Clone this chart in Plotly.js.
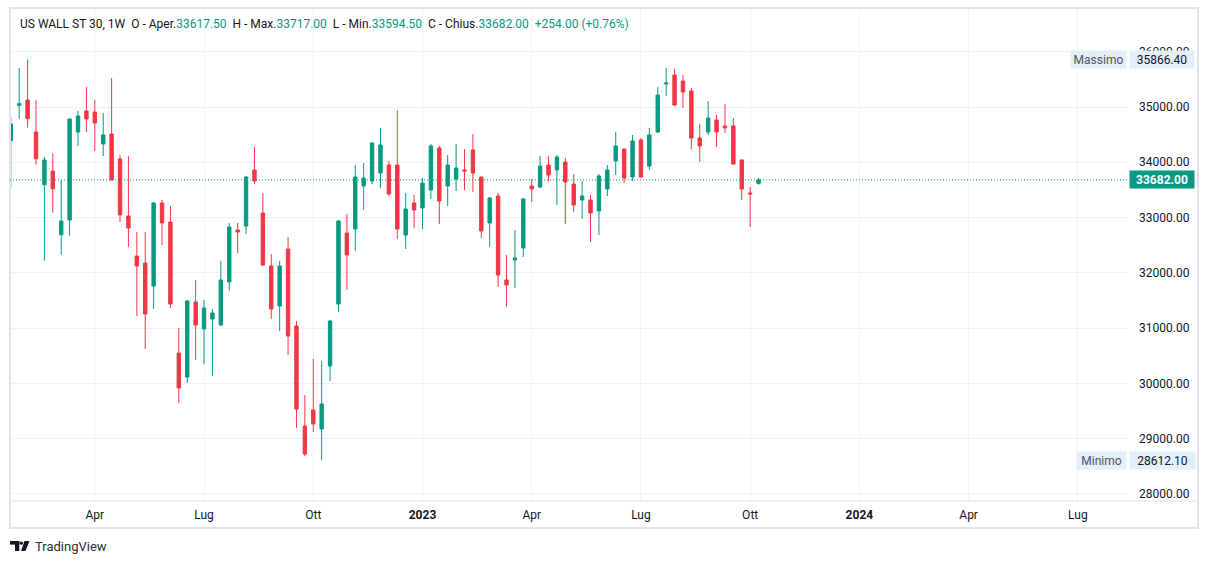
<!DOCTYPE html>
<html>
<head>
<meta charset="utf-8">
<script src="https://cdn.plot.ly/plotly-3.0.1.min.js"></script>
<style>
  html, body { margin: 0; padding: 0; background: #ffffff; }
  #chart { width: 1209px; height: 564px; }
</style>
</head>
<body>
<div id="chart"></div>
<script>
// weekly bars, US WALL ST 30 (CFD), 1W
const weeks = [
  '2022-01-24','2022-01-31','2022-02-07','2022-02-14','2022-02-21','2022-02-28','2022-03-07','2022-03-14','2022-03-21','2022-03-28',
  '2022-04-04','2022-04-11','2022-04-18','2022-04-25','2022-05-02','2022-05-09','2022-05-16','2022-05-23','2022-05-30','2022-06-06',
  '2022-06-13','2022-06-20','2022-06-27','2022-07-04','2022-07-11','2022-07-18','2022-07-25','2022-08-01','2022-08-08','2022-08-15',
  '2022-08-22','2022-08-29','2022-09-05','2022-09-12','2022-09-19','2022-09-26','2022-10-03','2022-10-10','2022-10-17','2022-10-24',
  '2022-10-31','2022-11-07','2022-11-14','2022-11-21','2022-11-28','2022-12-05','2022-12-12','2022-12-19','2022-12-26','2023-01-02',
  '2023-01-09','2023-01-16','2023-01-23','2023-01-30','2023-02-06','2023-02-13','2023-02-20','2023-02-27','2023-03-06','2023-03-13',
  '2023-03-20','2023-03-27','2023-04-03','2023-04-10','2023-04-17','2023-04-24','2023-05-01','2023-05-08','2023-05-15','2023-05-22',
  '2023-05-29','2023-06-05','2023-06-12','2023-06-19','2023-06-26','2023-07-03','2023-07-10','2023-07-17','2023-07-24','2023-07-31',
  '2023-08-07','2023-08-14','2023-08-21','2023-08-28','2023-09-04','2023-09-11','2023-09-18','2023-09-25','2023-10-02','2023-10-09'
];
const opens = [
  34391, 35030, 35127, 34548, 33595, 33843, 32690, 32956, 34548, 34928,
  34910, 34331, 34512, 34060, 33029, 32305, 32178, 31762, 33264, 32920,
  30550, 30116, 31473, 30985, 31165, 31057, 31835, 32775, 32848, 33861,
  33083, 32124, 31401, 32432, 31039, 29229, 29519, 29175, 30315, 31437,
  32721, 32793, 33571, 33662, 33806, 33951, 33951, 32685, 33264, 33173,
  33499, 34259, 33571, 33698, 33861, 34223, 33734, 32902, 33390, 31871,
  32233, 32450, 33571, 33553, 33951, 33861, 34005, 33607, 33318, 33318,
  33119, 33517, 34024, 34241, 33734, 34403, 33933, 34548, 35416, 35580,
  35471, 35290, 34440, 34548, 34765, 34657, 34657, 34042, 33445, 33617.5
];
const highs = [
  34819, 35706, 35866.4, 35127, 34096, 34168, 33674, 34790, 34928, 35362,
  35127, 34892, 35525, 34132, 34114, 32739, 32739, 33282, 33318, 33209,
  31003, 31509, 31871, 31509, 31346, 32215, 32902, 32902, 33752, 34277,
  33445, 32341, 32215, 32649, 31129, 29790, 30442, 30406, 31147, 32956,
  33065, 33951, 33987, 34360, 34620, 34024, 34946, 33445, 33409, 33716,
  34331, 34295, 34132, 34331, 34241, 34512, 33740, 33372, 33445, 32323,
  32775, 33354, 33698, 34114, 34114, 34132, 34078, 33788, 33662, 33409,
  33788, 33951, 34548, 34250, 34494, 34440, 34620, 35362, 35706, 35688,
  35580, 35344, 34693, 35109, 34856, 35054, 34801, 34050, 33553, 33717
];
const lows = [
  33540, 34783, 34626, 33957, 32220, 33088, 32328, 32672, 34295, 34548,
  34204, 34114, 33670, 32920, 32468, 31220, 30623, 31346, 32504, 31364,
  29646, 30007, 30424, 30352, 30134, 31039, 31672, 32359, 32703, 33607,
  32130, 31165, 30949, 30514, 29193, 28687, 29121, 28612.1, 30044, 31292,
  31690, 32395, 33137, 33607, 33535, 33390, 32613, 32432, 32811, 32793,
  33336, 32884, 33209, 33481, 33499, 33463, 32631, 32468, 31744, 31383,
  31726, 32287, 33282, 33535, 33662, 33227, 32884, 33101, 32974, 32558,
  32685, 33390, 33770, 33625, 33662, 33716, 33861, 34530, 35199, 35018,
  34982, 34241, 34005, 34494, 34277, 34530, 33951, 33318, 32830, 33594.5
];
const closes = [
  34693, 35060, 34789, 34065, 34042, 33522, 32938, 34783, 34838, 34783,
  34711, 34494, 33680, 33047, 32811, 32124, 31256, 33264, 32902, 31437,
  29917, 31491, 31057, 31365, 31274, 31871, 32830, 32739, 33734, 33662,
  32142, 31346, 32124, 30858, 29537, 28723, 29266, 29627, 31129, 32938,
  32323, 33734, 33716, 34349, 34313, 33427, 32793, 33155, 33137, 33625,
  34295, 33300, 33951, 33897, 33843, 33806, 32757, 33354, 31961, 31780,
  32269, 33336, 33517, 33933, 33770, 34096, 33644, 33228, 33390, 33083,
  33752, 33861, 34295, 33716, 34385, 33734, 34494, 35217, 35434, 35036,
  35271, 34440, 34295, 34801, 34548, 34620, 33969, 33517, 33428, 33682
];

const priceTicks = [28000, 29000, 30000, 31000, 32000, 33000, 34000, 35000, 36000];
const timeTickDates = ['2022-04-04','2022-07-04','2022-10-03','2023-01-02','2023-04-03','2023-07-03','2023-10-02','2024-01-01','2024-04-01','2024-07-01'];
const timeTickText = ['Apr','Lug','Ott','<b>2023</b>','Apr','Lug','Ott','<b>2024</b>','Apr','Lug'];

// ---------- geometry helpers (pixel -> paper) ----------
const M = { l: 10, r: 81, t: 9, b: 63 };
const W = 1209 - M.l - M.r, H = 564 - M.t - M.b;
function px(x) { return (x - M.l) / W; }
function py(y) { return (564 - M.b - y) / H; }

const GREEN = '#089981', RED = '#F23645', TXT = '#131722', GRID = '#f0f2f6', FRAME = '#e0e3eb';
const FONT = 'Roboto, "Open Sans", sans-serif';
const nb = '\u00a0';

function f2(v) { return v.toFixed(2); }

let n = closes.length;
let lastO = opens[n-1], lastH = highs[n-1], lastL = lows[n-1], lastC = closes[n-1];
let chg = lastC - closes[n-2];
let chgPct = chg / closes[n-2] * 100;
let hiMax = Math.max(...highs), loMin = Math.min(...lows);

function g(s) { return `<span style="color:${GREEN}">${s}</span>`; }
let header = `US WALL ST 30, 1W${nb}${nb}O - Aper.${g(f2(lastO))}${nb}${nb}H - Max.${g(f2(lastH))}${nb}${nb}L - Min.${g(f2(lastL))}${nb}${nb}C - Chius.${g(f2(lastC))}${nb}${nb}${g((chg >= 0 ? '+' : '') + f2(chg) + ' (' + (chg >= 0 ? '+' : '') + chgPct.toFixed(2) + '%)')}`;

let traceCandle = {
  type: 'candlestick', x: weeks, open: opens, high: highs, low: lows, close: closes,
  increasing: { line: { color: GREEN, width: 1 }, fillcolor: GREEN },
  decreasing: { line: { color: RED, width: 1 }, fillcolor: RED },
  whiskerwidth: 0, hoverinfo: 'skip', showlegend: false
};

let tagBg = '#e3effd';
let annotations = [
  { xref: 'paper', yref: 'paper', x: px(18), y: py(24), xanchor: 'left', yanchor: 'middle',
    text: header, showarrow: false, font: { family: FONT, size: 12, color: TXT } },
  // last price tag
  { xref: 'paper', yref: 'y', x: px(1129), y: lastC, xanchor: 'left', yanchor: 'middle',
    text: f2(lastC), showarrow: false, bgcolor: GREEN, width: 64, height: 17, borderpad: 0,
    font: { family: FONT, size: 12, color: '#ffffff', weight: 'bold' } },
  // high / low tags
  { xref: 'paper', yref: 'y', x: px(1127), y: hiMax, xanchor: 'right', yanchor: 'middle',
    text: 'Massimo', showarrow: false, bgcolor: tagBg, width: 55, height: 17, borderpad: 0,
    font: { family: FONT, size: 12, color: '#50535e' } },
  { xref: 'paper', yref: 'y', x: px(1129), y: hiMax, xanchor: 'left', yanchor: 'middle',
    text: f2(hiMax), showarrow: false, bgcolor: tagBg, width: 64, height: 17, borderpad: 0,
    font: { family: FONT, size: 12, color: TXT } },
  { xref: 'paper', yref: 'y', x: px(1127), y: loMin, xanchor: 'right', yanchor: 'middle',
    text: 'Minimo', showarrow: false, bgcolor: tagBg, width: 49, height: 17, borderpad: 0,
    font: { family: FONT, size: 12, color: '#50535e' } },
  { xref: 'paper', yref: 'y', x: px(1129), y: loMin, xanchor: 'left', yanchor: 'middle',
    text: f2(loMin), showarrow: false, bgcolor: tagBg, width: 65, height: 17, borderpad: 0,
    font: { family: FONT, size: 12, color: TXT } },
  // branding
  { xref: 'paper', yref: 'paper', x: px(33), y: py(546), xanchor: 'left', yanchor: 'middle',
    text: 'TradingView', showarrow: false, font: { family: FONT, size: 13, color: '#2a2e39' } }
];

let shapes = [
  // widget frame
  { type: 'rect', xref: 'paper', yref: 'paper', x0: px(10), x1: px(1198), y0: py(528), y1: py(8),
    line: { color: FRAME, width: 2 }, fillcolor: 'rgba(0,0,0,0)' },
  // time scale separator
  { type: 'line', xref: 'paper', yref: 'paper', x0: px(10), x1: px(1198), y0: py(501), y1: py(501),
    line: { color: FRAME, width: 1 } },
  // last price line
  { type: 'line', xref: 'paper', yref: 'y', x0: 0, x1: 1, y0: lastC, y1: lastC,
    line: { color: GREEN, width: 1, dash: '1px,2px' } },
  // logo
  { type: 'rect', xref: 'paper', yref: 'paper', x0: px(10), x1: px(19.3), y0: py(544.6), y1: py(541),
    fillcolor: TXT, line: { width: 0 } },
  { type: 'rect', xref: 'paper', yref: 'paper', x0: px(15), x1: px(19.3), y0: py(551), y1: py(541),
    fillcolor: TXT, line: { width: 0 } },
  { type: 'circle', xref: 'paper', yref: 'paper', x0: px(19.8), x1: px(23), y0: py(544.8), y1: py(541.6),
    fillcolor: TXT, line: { width: 0 } },
  { type: 'path', xref: 'paper', yref: 'paper',
    path: `M ${px(24.5)} ${py(541)} L ${px(29.5)} ${py(541)} L ${px(25.5)} ${py(551)} L ${px(21)} ${py(551)} Z`,
    fillcolor: TXT, line: { width: 0 } }
];

let layout = {
  width: 1209, height: 564,
  margin: M,
  paper_bgcolor: '#ffffff', plot_bgcolor: '#ffffff',
  showlegend: false, boxgap: 0.42,
  font: { family: FONT, size: 12, color: TXT },
  xaxis: {
    type: 'date', range: ['2022-01-23 08:00', '2024-08-11 19:00'],
    rangeslider: { visible: false },
    tickmode: 'array', tickvals: timeTickDates, ticktext: timeTickText,
    showgrid: true, gridcolor: GRID, gridwidth: 1, zeroline: false, showline: false,
    ticks: '', ticklabelstandoff: 5, tickfont: { family: FONT, size: 12, color: TXT }
  },
  yaxis: {
    side: 'right', range: [27873, 36773],
    tickmode: 'array', tickvals: priceTicks, ticktext: priceTicks.map(f2),
    showgrid: true, gridcolor: GRID, gridwidth: 1, zeroline: false, showline: false,
    ticks: '', ticklabelstandoff: 10, tickfont: { family: FONT, size: 12, color: TXT }
  },
  annotations: annotations,
  shapes: shapes
};

Plotly.newPlot('chart', [traceCandle], layout, { displayModeBar: false, staticPlot: true });
</script>
</body>
</html>
